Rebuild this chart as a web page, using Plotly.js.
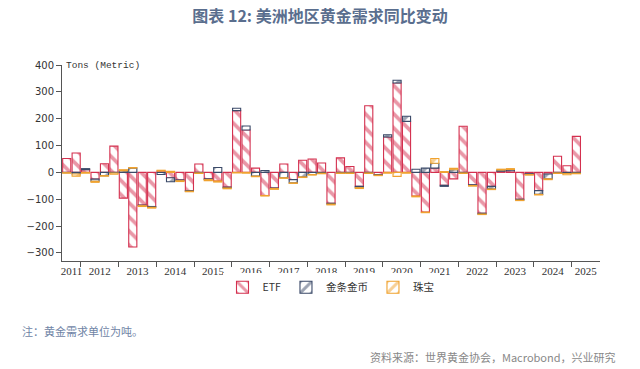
<!DOCTYPE html>
<html>
<head>
<meta charset="utf-8">
<script src="https://cdn.plot.ly/plotly-3.0.1.min.js"></script>
<style>html,body{margin:0;padding:0;background:#fff;}#chart{width:640px;height:369px;}</style>
</head>
<body>
<div id="chart"></div>
<script>
// Quarters shown (data), 2011Q3 .. 2025Q1
const quarters = ["2011Q3","2011Q4",
 "2012Q1","2012Q2","2012Q3","2012Q4",
 "2013Q1","2013Q2","2013Q3","2013Q4",
 "2014Q1","2014Q2","2014Q3","2014Q4",
 "2015Q1","2015Q2","2015Q3","2015Q4",
 "2016Q1","2016Q2","2016Q3","2016Q4",
 "2017Q1","2017Q2","2017Q3","2017Q4",
 "2018Q1","2018Q2","2018Q3","2018Q4",
 "2019Q1","2019Q2","2019Q3","2019Q4",
 "2020Q1","2020Q2","2020Q3","2020Q4",
 "2021Q1","2021Q2","2021Q3","2021Q4",
 "2022Q1","2022Q2","2022Q3","2022Q4",
 "2023Q1","2023Q2","2023Q3","2023Q4",
 "2024Q1","2024Q2","2024Q3","2024Q4",
 "2025Q1"];
const etf = [52,72,
 10,-25,32,98,
 -96,-278,-122,-127,
 5,-20,-28,-68,
 31,-24,-32,-55,
 230,158,16,-86,
 -58,31,-27,45,
 50,35,-115,54,
 22,-52,248,-8,
 132,333,190,-88,
 -148,16,-48,-24,
 172,-46,-152,-52,
 4,6,-100,-5,
 -68,-6,60,25,
 134];
const coins = [-1,-6,
 4,-8,-12,-2,
 6,16,-2,-3,
 -8,-15,-3,-2,
 -2,-3,18,-3,
 9,15,-14,7,
 -2,-20,-12,-17,
 -8,-3,-3,-2,
 -2,-5,-2,-2,
 8,10,19,12,
 16,18,-4,10,
 -2,-3,-3,-10,
 5,5,-3,-3,
 -14,-18,-2,-4,
 -3];
const jewelry = [-2,-8,
 -3,-4,-2,-5,
 4,2,-3,-3,
 3,4,-3,-2,
 -2,-4,-4,-3,
 -2,-3,-2,-2,
 -3,-2,-2,-2,
 -2,-2,-3,-2,
 -2,-3,-2,-2,
 -3,-15,-3,-3,
 -2,18,3,5,
 -2,-2,-2,-2,
 3,3,-2,-2,
 -2,-3,-2,-5,
 -2];
// Axis spans 2011Q3 .. 2025Q3
const axisStart = "2011Q3";
const axisEnd = "2025Q3";
const years = [2011,2012,2013,2014,2015,2016,2017,2018,2019,2020,2021,2022,2023,2024,2025];
const seriesNames = ["ETF","金条金币","珠宝"];
const yTicks = [-300,-200,-100,0,100,200,300,400];

function qIndex(q){
  const y = parseInt(q.slice(0,4)), n = parseInt(q.slice(5));
  const y0 = parseInt(axisStart.slice(0,4)), n0 = parseInt(axisStart.slice(5));
  return (y - y0)*4 + (n - n0);
}
const xs = quarters.map(qIndex);
const xMin = -0.5, xMax = qIndex(axisEnd) + 0.5;

const bounds = [], centers = [];
years.forEach(y => {
  const a = Math.max(xMin, qIndex(y+"Q1") - 0.5);
  const b = Math.min(xMax, qIndex(y+"Q4") + 0.5);
  centers.push((a+b)/2);
  if (a > xMin) bounds.push(a);
});

const colors = ["#d4304f","#3b4a68","#f0a22e"];
const shapes = ["\\","/","/"];
const vals = [etf, coins, jewelry];

const traces = vals.map((v,k) => ({
  type:"bar", x: xs, y: v, name: seriesNames[k], width: 0.86,
  marker:{
    color:"#ffffff",
    line:{color: colors[k], width:1.1},
    pattern:{shape: shapes[k], fgcolor: colors[k], bgcolor:"#ffffff", size:10, solidity:0.38, fillmode:"overlay"}
  },
  hoverinfo:"skip"
}));

const layout = {
  width:640, height:369,
  margin:{l:62, r:40, t:65, b:108},
  paper_bgcolor:"#ffffff", plot_bgcolor:"#ffffff",
  barmode:"relative",
  showlegend:true,
  title:{text:"<b>图表 12: 美洲地区黄金需求同比变动</b>", x:0.5, xanchor:"center", y:0.97, yanchor:"top",
    font:{family:"Noto Sans CJK SC", size:16, color:"#5a6e8e"}},
  xaxis:{
    range:[xMin, xMax], showgrid:false, zeroline:false,
    showline:true, linecolor:"#555", linewidth:1,
    tickmode:"array", tickvals:centers, ticktext:years.map(String), ticks:"",
    tickfont:{family:"Liberation Serif", size:11, color:"#333"},
    minor:{tickmode:"array", tickvals:bounds, ticks:"outside", ticklen:5, tickcolor:"#555", showgrid:false}
  },
  yaxis:{
    range:[-330, 400], showgrid:false, zeroline:false,
    showline:true, linecolor:"#555", linewidth:1,
    tickmode:"array", tickvals:yTicks, ticks:"outside", ticklen:5, tickcolor:"#555",
    tickfont:{family:"DejaVu Sans", size:10, color:"#333"}
  },
  legend:{orientation:"h", x:0.5, xanchor:"center", y:-0.06, yanchor:"top",
    font:{family:"Noto Sans CJK SC", size:10.5, color:"#333"}, itemwidth:30, tracegroupgap:0},
  annotations:[
    {text:"Tons (Metric)", xref:"paper", yref:"y", x:0.004, y:400, xanchor:"left", yanchor:"middle",
     showarrow:false, font:{family:"Liberation Mono", size:9.5, color:"#333"}},
    {text:"注：黄金需求单位为吨。", xref:"paper", yref:"paper", x:(20-62)/538, y:-(331-261)/196,
     xanchor:"left", yanchor:"middle", showarrow:false, font:{family:"Noto Sans CJK SC", size:11, color:"#6f84a6"}},
    {text:"资料来源：世界黄金协会，Macrobond，兴业研究", xref:"paper", yref:"paper", x:(618-62)/538, y:-(357-261)/196,
     xanchor:"right", yanchor:"middle", showarrow:false, font:{family:"Noto Sans CJK SC", size:11, color:"#888888"}}
  ]
};

Plotly.newPlot("chart", traces, layout, {staticPlot:true, displayModeBar:false});
</script>
</body>
</html>
